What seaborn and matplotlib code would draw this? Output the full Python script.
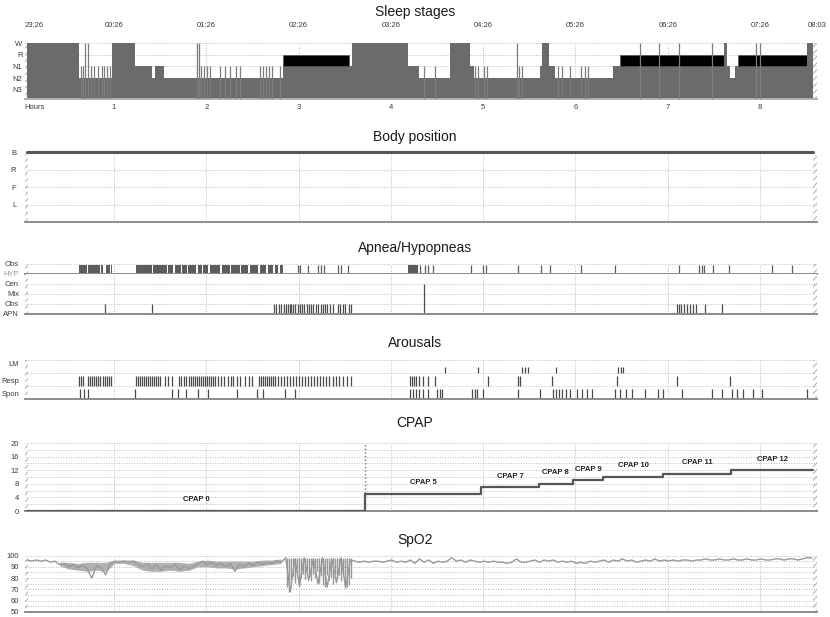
import numpy as np
import pandas as pd
import matplotlib
matplotlib.use("Agg")
import matplotlib.pyplot as plt
import seaborn as sns

# ---------------- data ----------------
hour_ticks = [1, 2, 3, 4, 5, 6, 7, 8]
hour_labels = ["Hours", "1", "2", "3", "4", "5", "6", "7", "8"]
clock_labels = ["23:26", "00:26", "01:26", "02:26", "03:26", "04:26",
                "05:26", "06:26", "07:26", "08:03"]
clock_pos = [0.03, 1, 2, 3, 4, 5, 6, 7, 8, 8.617]
x_start, x_end = 0.03, 8.617

stage_levels = {"N3": 1, "N2": 2, "N1": 3, "R": 4, "W": 5}
stage_start = [0.06, 0.62, 0.98, 1.23, 1.41, 1.44, 1.54, 2.83, 3.55, 3.58,
               4.19, 4.30, 4.64, 4.86, 4.90, 5.62, 5.64, 5.71, 5.78, 6.41,
               6.48, 7.61, 7.64, 7.67, 7.73, 7.76, 8.51]
stage_code = ["W", "N2", "W", "N1", "N2", "N1", "N2", "R", "N1", "W",
              "N1", "N2", "W", "N1", "N2", "N1", "W", "N1", "N2", "N1",
              "R", "W", "N1", "N2", "N1", "R", "W"]
stage_end = 8.57
spike_t = [0.64, 0.66, 0.69, 0.72, 0.75, 0.78, 0.83, 0.87, 0.89, 0.92, 0.96,
           1.90, 1.92, 1.94, 1.98, 2.01, 2.04, 2.15, 2.20, 2.26, 2.32, 2.37,
           2.58, 2.61, 2.65, 2.68, 2.71, 2.80,
           4.36, 4.48, 4.91, 4.94, 5.01, 5.04, 5.37, 5.39, 5.42,
           5.81, 5.85, 5.94, 6.06, 6.10, 6.14,
           6.70, 6.91, 7.12, 7.48, 7.96, 8.00]
spike_stage = ["N1", "N1", "W", "W", "N1", "N1", "N1", "N1", "N1", "N1", "N1",
               "W", "W", "N1", "N1", "N1", "N1", "N1", "N1", "N1", "N1", "N1",
               "N1", "N1", "N1", "N1", "N1", "N1",
               "N1", "N1", "N1", "N1", "N1", "N1", "W", "N1", "N1",
               "N1", "N1", "N1", "N1", "N1", "N1",
               "W", "W", "W", "W", "W", "W"]

body_names = ["B", "R", "F", "L"]
body_t = [0.06, 8.57]
body_level = [4, 4]

hyp_block_start = [0.62, 0.72, 0.86, 0.91, 0.97, 1.24, 1.42, 1.59, 1.66, 1.74, 1.80, 1.91,
                   1.96, 2.04, 2.17, 2.27, 2.38, 2.47, 2.58, 2.67, 2.74, 2.80, 4.19]
hyp_block_end = [0.71, 0.85, 0.88, 0.96, 0.98, 1.41, 1.57, 1.64, 1.73, 1.79, 1.89, 1.95,
                 2.02, 2.15, 2.26, 2.36, 2.45, 2.56, 2.65, 2.72, 2.78, 2.83, 4.29]
hyp_single = [2.99, 3.02, 3.10, 3.21, 3.24, 3.28, 3.43, 3.46, 3.54, 4.32, 4.37, 4.40,
              4.46, 4.87, 5.00, 5.03, 5.38, 5.63, 5.72, 6.06, 6.43, 7.12, 7.34, 7.37,
              7.39, 7.49, 7.66, 8.13, 8.35]
obs_apnea = [0.90, 1.41, 2.73, 2.76, 2.79, 2.81, 2.84, 2.86, 2.89, 2.91, 2.92, 2.94,
             2.96, 2.99, 3.02, 3.04, 3.06, 3.09, 3.11, 3.13, 3.16, 3.19, 3.21, 3.24,
             3.26, 3.29, 3.31, 3.34, 3.37, 3.43, 3.45, 3.48, 3.50, 3.55, 3.57,
             7.10, 7.12, 7.14, 7.18, 7.21, 7.24, 7.27, 7.31, 7.40, 7.59]
central_apnea = [4.36]

lm_arousal = [4.59, 4.94, 5.42, 5.45, 5.49, 5.79, 6.46, 6.49, 6.52]
resp_arousal = [0.62, 0.64, 0.66, 0.72, 0.74, 0.76, 0.78, 0.81, 0.83, 0.85, 0.88, 0.90,
                0.92, 0.95, 0.97,
                1.24, 1.26, 1.28, 1.30, 1.33, 1.35, 1.37, 1.39, 1.41, 1.43, 1.46, 1.48,
                1.50, 1.55, 1.59, 1.63,
                1.70, 1.73, 1.76, 1.78, 1.81, 1.83, 1.86, 1.88, 1.90, 1.92, 1.94, 1.96,
                1.99, 2.01, 2.03, 2.05, 2.07, 2.09, 2.13, 2.16, 2.19, 2.24, 2.27, 2.29,
                2.33, 2.37, 2.42, 2.46, 2.50,
                2.57, 2.59, 2.61, 2.64, 2.66, 2.68, 2.70, 2.72, 2.74, 2.78, 2.81, 2.84,
                2.87, 2.91, 2.94, 2.97, 3.00, 3.04, 3.07, 3.10, 3.13, 3.17, 3.20, 3.23,
                3.26, 3.30, 3.33, 3.37, 3.41, 3.44, 3.48, 3.52, 3.57,
                4.21, 4.23, 4.25, 4.27, 4.30, 4.35, 4.40, 4.48, 5.05, 5.38, 5.40, 5.75,
                6.45, 7.10, 7.67]
spon_arousal = [0.63, 0.68, 0.72, 1.23, 1.63, 1.69, 1.78, 1.91, 2.02, 2.33, 2.55, 2.61,
                2.85, 2.96,
                4.21, 4.24, 4.27, 4.30, 4.35, 4.40, 4.50, 4.53, 4.55, 4.88, 4.91, 4.93,
                5.00, 5.38, 5.62, 5.76, 5.79, 5.82, 5.85, 5.90, 5.94, 6.02, 6.07, 6.12,
                6.18, 6.43, 6.48, 6.55, 6.61, 6.75, 6.89, 6.95, 7.15, 7.48, 7.59, 7.70,
                7.75, 7.82, 7.92, 8.02, 8.51]

cpap_start = [0.06, 3.72, 4.98, 5.60, 5.97, 6.30, 6.95, 7.69]
cpap_level = [0, 5, 7, 8, 9, 10, 11, 12]
cpap_end = 8.57

spo2_t0, spo2_dt = 0.06, 0.05
spo2 = [96, 95, 96, 95, 96, 94, 95, 92, 93, 90,
        92, 89, 92, 88, 80, 91, 89, 83, 93, 95,
        94, 95, 94, 95, 92, 90, 93, 88, 92, 87,
        91, 89, 92, 87, 91, 88, 90, 93, 95, 92,
        94, 91, 93, 90, 93, 86, 92, 90, 93, 91,
        94, 92, 94, 93, 95, 94, 98, 68, 97, 73,
        98, 78, 97, 75, 98, 72, 97, 76, 98, 71,
        96, 95, 94, 95, 94, 95, 95, 94, 95, 96,
        94, 95, 94, 96, 93, 97, 94, 96, 93, 95,
        94, 95, 98, 95, 96, 94, 96, 95, 94, 95,
        94, 95, 94, 94, 93, 94, 97, 94, 94, 95,
        96, 94, 96, 95, 96, 94, 95, 94, 95, 93,
        94, 93, 95, 94, 95, 96, 94, 96, 95, 97,
        95, 96, 94, 95, 96, 95, 97, 95, 96, 95,
        96, 95, 96, 96, 95, 96, 96, 97, 96, 96,
        97, 96, 96, 97, 96, 96, 97, 96, 96, 97,
        96, 96, 97, 97, 96, 97, 97, 96, 97, 98,
        98]
# noisy band (envelope of the trace) during the first part of the night
band_t = [0.41, 0.51, 0.61, 0.71, 0.81, 0.91, 1.01, 1.11, 1.21, 1.31, 1.41, 1.51,
          1.61, 1.71, 1.81, 1.91, 2.01, 2.11, 2.21, 2.31, 2.41, 2.51, 2.61, 2.71, 2.81]
band_hi = [94, 94, 93, 94, 94, 94, 96, 96, 96, 94, 94, 94,
           94, 94, 93, 95, 96, 95, 95, 95, 95, 95, 96, 96, 97]
band_lo = [91, 88, 87, 86, 87, 86, 93, 93, 91, 87, 86, 86,
           87, 86, 87, 90, 90, 89, 89, 88, 89, 90, 91, 92, 93]
dip_t = [2.874, 2.896, 2.918, 2.939, 2.961, 2.983, 3.004, 3.026, 3.048, 3.069,
         3.091, 3.113, 3.134, 3.156, 3.178, 3.199, 3.221, 3.243, 3.264, 3.286,
         3.308, 3.329, 3.351, 3.373, 3.394, 3.416, 3.438, 3.459, 3.481, 3.503,
         3.524, 3.546, 3.568]
dip_min = [72, 68, 78, 82, 76, 85, 73, 80, 84, 79,
           86, 81, 77, 84, 80, 86, 76, 82, 74, 72,
           83, 78, 81, 75, 84, 79, 83, 77, 85, 73,
           72, 74, 80]
dip_top = 98

# ---------------- style ----------------
sns.set_theme(style="white")
plt.rcParams["font.family"] = ["Liberation Sans", "DejaVu Sans"]
plt.rcParams["hatch.linewidth"] = 0.6

FW, FH = 830, 617
fig = plt.figure(figsize=(FW / 100, FH / 100), dpi=100)
LEFT_PX, RIGHT_PX = 24.5, 817

GRID = "#bcbcbc"
DOT = (0, (1, 1.6))
TICKC = "#3a3a3a"


def add_ax(top_px, bot_px):
    return fig.add_axes([LEFT_PX / FW, 1 - bot_px / FH,
                         (RIGHT_PX - LEFT_PX) / FW, (bot_px - top_px) / FH])


def style(ax, ylim, yticks, ylabels, hgrid, pad=2.0, hatch_end=8.575):
    ax.set_xlim(x_start, x_end)
    ax.set_ylim(*ylim)
    ax.set_yticks(yticks)
    ax.set_yticklabels(ylabels)
    ax.set_xticks([])
    ax.tick_params(axis="y", length=0, pad=pad, labelsize=5.5, labelcolor=TICKC)
    for s in ["top", "right", "left"]:
        ax.spines[s].set_visible(False)
    ax.spines["bottom"].set_color("#8c8c8c")
    ax.spines["bottom"].set_linewidth(1.4)
    for h in hour_ticks:
        ax.axvline(h, color=GRID, ls=DOT, lw=0.7, zorder=0)
    for g in hgrid:
        ax.axhline(g, color=GRID, ls=DOT, lw=0.7, zorder=0)
    ax.axvspan(x_start, 0.065, facecolor="none", edgecolor="#a0a0a0",
               hatch="/////", lw=0, zorder=1)
    ax.axvspan(hatch_end, x_end, facecolor="none", edgecolor="#a0a0a0",
               hatch="/////", lw=0, zorder=1)


def title(y_px, text):
    fig.text(0.5, 1 - y_px / FH, text, ha="center", va="center",
             fontsize=10, color="#1a1a1a")


# ---- Sleep stages ----
ax1 = add_ax(43, 99.3)
style(ax1, (0.2, 5), [5, 4, 3, 2, 1], ["W", "R", "N1", "N2", "N3"], [5, 4, 3], pad=1.5)
ends = stage_start[1:] + [stage_end]
for s, e, c in zip(stage_start, ends, stage_code):
    lev = stage_levels[c]
    base = min(lev, 3) if c == "R" else lev
    ax1.bar(s, base - 0.2, width=e - s, bottom=0.2, align="edge",
            color="#6b6b6b", lw=0, zorder=2)
    if c == "R":
        ax1.bar(s, 1, width=e - s, bottom=3, align="edge", color="#000000",
                edgecolor="#555555", lw=0.5, zorder=2)
ax1.vlines(spike_t, 0.2, [stage_levels[c] for c in spike_stage],
           color="#7c7c7c", lw=0.9, zorder=3)
tr = ax1.get_xaxis_transform()
for i, (p, lab) in enumerate(zip(clock_pos, clock_labels)):
    ax1.text(p, 1.31, lab, transform=tr, ha="left" if i == 0 else "center",
             va="center", fontsize=5.5, color=TICKC)
for i, (p, lab) in enumerate(zip([x_start] + hour_ticks, hour_labels)):
    ax1.text(p, -0.14, lab, transform=tr, ha="left" if i == 0 else "center",
             va="center", fontsize=5.5, color=TICKC)
ax1.spines["bottom"].set_color("#b0b0b0")
title(12, "Sleep stages")

# ---- Body position ----
ax2 = add_ax(152, 222)
style(ax2, (0, 4), [4, 3, 2, 1], body_names, [3, 2, 1], pad=6)
sns.lineplot(x=body_t, y=body_level, ax=ax2, color="#555555", lw=2.2,
             estimator=None, clip_on=False, zorder=3)
title(137, "Body position")

# ---- Apnea / Hypopneas ----
ax3a = add_ax(264, 274)
style(ax3a, (0, 1), [1, 0], ["Obs", "HYP"], [1], pad=4)
ax3a.get_yticklabels()[1].set_color("#9a9a9a")
ax3a.bar(hyp_block_start, 0.8,
         width=[e - s for s, e in zip(hyp_block_start, hyp_block_end)],
         bottom=0.1, align="edge", color="#5c5c5c", lw=0, zorder=2)
ax3a.vlines(hyp_single, 0.1, 0.9, color="#5c5c5c", lw=0.9, zorder=2)

ax3b = add_ax(274, 314)
style(ax3b, (0, 4), [3, 2, 1, 0], ["Cen", "Mix", "Obs", "APN"], [3, 2, 1], pad=4)
ax3b.vlines(obs_apnea, 0, 1, color="#4d4d4d", lw=0.9, zorder=2)
ax3b.vlines(central_apnea, 0, 3, color="#4d4d4d", lw=0.9, zorder=2)
title(248, "Apnea/Hypopneas")

# ---- Arousals ----
ax4 = add_ax(360, 399)
style(ax4, (0, 3), [2.75, 1.4, 0.45], ["LM", "Resp", "Spon"], [3, 2, 1], pad=4)
ax4.vlines(lm_arousal, 2, 2.5, color="#4a4a4a", lw=0.9, zorder=2)
ax4.vlines(resp_arousal, 1, 1.8, color="#4a4a4a", lw=0.9, zorder=2)
ax4.vlines(spon_arousal, 0, 0.75, color="#4a4a4a", lw=0.9, zorder=2)
title(343, "Arousals")

# ---- CPAP ----
ax5 = add_ax(443, 511)
style(ax5, (0, 20), [0, 4, 8, 12, 16, 20], ["0", "4", "8", "12", "16", "20"],
      [2, 4, 6, 8, 10, 12, 14, 16, 18, 20], pad=4)
cp = pd.DataFrame({"t": cpap_start + [cpap_end], "p": cpap_level + [cpap_level[-1]]})
sns.lineplot(data=cp, x="t", y="p", ax=ax5, drawstyle="steps-post",
             color="#555555", lw=1.6, estimator=None, zorder=3)
ax5.axvline(cpap_start[1], color="#777777", ls=DOT, lw=1.0, zorder=1)
cend = cpap_start[1:] + [cpap_end]
for s, e, lev in zip(cpap_start, cend, cpap_level):
    ax5.annotate(f"CPAP {lev}", ((s + e) / 2, lev), xytext=(0, 8),
                 textcoords="offset points", ha="center", va="center",
                 fontsize=5.5, fontweight="bold", color="#222222")
ax5.set_xlabel("")
ax5.set_ylabel("")
title(423, "CPAP")

# ---- SpO2 ----
ax6 = add_ax(555.5, 612)
style(ax6, (50, 100), [50, 60, 70, 80, 90, 100],
      ["50", "60", "70", "80", "90", "100"],
      [55, 60, 65, 70, 75, 80, 85, 90, 95, 100], pad=4)
ax6.fill_between(band_t, band_lo, band_hi, color="#a4a4a4", lw=0, alpha=0.85, zorder=2)
spo2_t = [spo2_t0 + i * spo2_dt for i in range(len(spo2))]
sns.lineplot(x=spo2_t, y=spo2, ax=ax6, color="#999999", lw=1.0,
             estimator=None, zorder=3)
ax6.vlines(dip_t, dip_min, dip_top, color="#999999", lw=1.0, zorder=3)
ax6.set_xlabel("")
ax6.set_ylabel("")
title(540, "SpO2")

fig.savefig("out.png", dpi=100)
